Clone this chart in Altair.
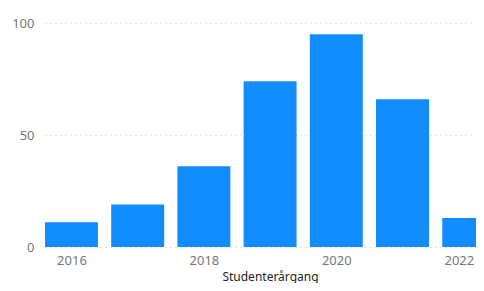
import altair as alt
import pandas as pd

years = [2016, 2017, 2018, 2019, 2020, 2021, 2022]
counts = [11, 19, 36, 74, 95, 66, 13]
x_ticks = [2016, 2018, 2020, 2022]
y_ticks = [0, 50, 100]

df = pd.DataFrame({"year": years, "count": counts})
df["x0"] = df["year"] - 0.4
df["x1"] = df["year"] + 0.4

FONT = "Noto Sans"

chart = alt.Chart(df).mark_bar(color="#118DFF", clip=True, orient="vertical").encode(
    x=alt.X(
        "x0:Q",
        scale=alt.Scale(domain=[2015.6, 2022.11], nice=False, zero=False, padding=0),
        axis=alt.Axis(
            values=x_ticks, format="d", title="Studenterårgang",
            grid=False, domain=False, ticks=False,
            labelFont=FONT, labelFontSize=13, labelColor="#777777", labelPadding=7,
            labelFlush=10, labelFlushOffset=5,
            labelBound=False, labelOverlap=False,
            titleFont=FONT, titleFontSize=12, titleColor="#252423", titleFontWeight="normal",
            titleX=225, titleY=29, titleBaseline="middle", titleAlign="center",
        ),
    ),
    x2="x1:Q",
    y=alt.Y(
        "count:Q",
        scale=alt.Scale(domain=[0, 100], nice=False, padding=0),
        axis=alt.Axis(
            values=y_ticks, title=None, domain=False, ticks=False,
            grid=True, gridColor="#C8C8C8", gridDash=[1, 4], gridWidth=1,
            labelFont=FONT, labelFontSize=13, labelColor="#777777", labelPadding=11,
        ),
    ),
    y2=alt.datum(0),
).properties(
    width=431, height=224,
    autosize=alt.AutoSizeParams(type="none"),
    padding={"left": 37, "top": 15, "right": 0, "bottom": 36},
).configure_view(stroke=None)

chart.save("out.html", embed_options={"renderer": "svg", "actions": False})
